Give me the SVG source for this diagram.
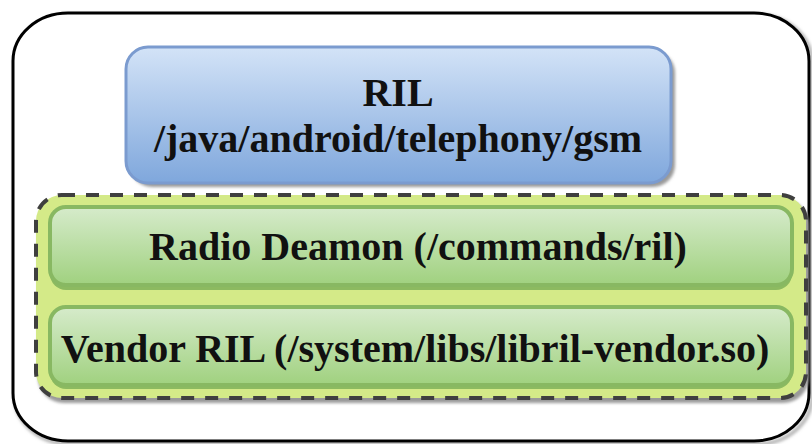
<svg xmlns="http://www.w3.org/2000/svg" width="812" height="444" viewBox="0 0 812 444">
  <defs>
    <linearGradient id="blueFill" x1="0" y1="0" x2="0" y2="1">
      <stop offset="0" stop-color="#d3e3f7"/>
      <stop offset="1" stop-color="#7fa7dc"/>
    </linearGradient>
    <linearGradient id="greenFill" x1="0" y1="0" x2="0" y2="1">
      <stop offset="0" stop-color="#d6ebcb"/>
      <stop offset="1" stop-color="#a0d17f"/>
    </linearGradient>
    <filter id="soft" x="-5%" y="-5%" width="110%" height="110%">
      <feGaussianBlur stdDeviation="1.5"/>
    </filter>
  </defs>
  <style>
    .label { font-weight: bold; font-size: 40px; fill: #111111; text-anchor: middle; }
    .shadow { fill: #9a9a9a; filter: url(#soft); }
    .layer { fill: url(#greenFill); stroke: #88b862; stroke-width: 4; }
  </style>

  <rect width="812" height="444" fill="#ffffff"/>

  <!-- outer frame -->
  <g id="frame">
    <rect x="15" y="15" width="797" height="429" rx="55" ry="48" fill="none" stroke="#b8b8b8" stroke-width="4" filter="url(#soft)"/>
    <rect x="13" y="13" width="796" height="428" rx="55" ry="48" fill="#ffffff" stroke="#000000" stroke-width="3"/>
  </g>

  <g font-family="Liberation Serif, serif">
    <!-- upper layer -->
    <g id="ril-java">
      <rect class="shadow" x="130" y="51" width="545" height="136" rx="22"/>
      <rect x="126" y="47" width="545" height="136" rx="22" fill="url(#blueFill)" stroke="#7b9bcf" stroke-width="3"/>
      <text class="label" x="398" y="106">RIL</text>
      <text class="label" x="398" y="152">/java/android/telephony/gsm</text>
    </g>

    <!-- native layers container -->
    <g id="native-group">
      <rect class="shadow" x="38" y="199" width="771" height="204" rx="26"/>
      <rect x="36" y="195" width="770" height="203" rx="26" fill="#d4ea88" stroke="#3f3f3f" stroke-width="4" stroke-dasharray="13 11"/>
    </g>

    <g id="radio-daemon">
      <rect x="50" y="210" width="742" height="80" rx="16" fill="#8cba60"/>
      <rect class="layer" x="50" y="207" width="742" height="78" rx="16"/>
      <text class="label" x="418" y="260">Radio Deamon (/commands/ril)</text>
    </g>

    <g id="vendor-ril">
      <rect x="50" y="310" width="742" height="79" rx="16" fill="#8cba60"/>
      <rect class="layer" x="50" y="307" width="742" height="78" rx="16"/>
      <text class="label" x="415" y="362">Vendor RIL (/system/libs/libril-vendor.so)</text>
    </g>
  </g>

  <g id="connectors"/>
</svg>
